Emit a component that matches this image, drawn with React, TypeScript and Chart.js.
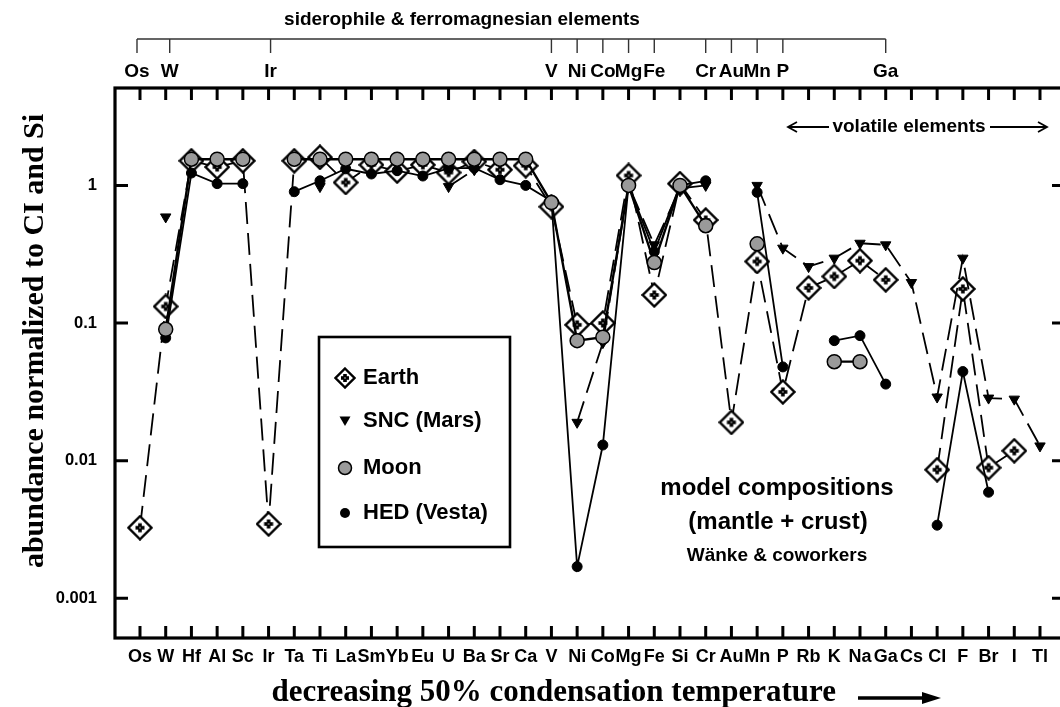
import React, { useEffect, useRef } from "react";
import { Chart, registerables } from "chart.js";
Chart.register(...registerables);

const elements = ["Os","W","Hf","Al","Sc","Ir","Ta","Ti","La","Sm","Yb","Eu","U","Ba","Sr","Ca","V","Ni","Co","Mg","Fe","Si","Cr","Au","Mn","P","Rb","K","Na","Ga","Cs","Cl","F","Br","I","Tl"];

const earth = [0.00326, 0.132, 1.51, 1.36, 1.51, 0.00347, 1.51, 1.6, 1.05, 1.41, 1.27, 1.41, 1.24, 1.49, 1.3, 1.39, 0.7, 0.097, 0.1, 1.18, 0.16, 1.03, 0.56, 0.019, 0.28, 0.0316, 0.18, 0.218, 0.284, 0.206, null, 0.0086, 0.177, 0.0089, 0.0118, null];
const snc = [null, 0.59, null, null, null, null, null, 0.98, null, null, null, null, 0.98, 1.3, null, null, null, 0.019, 0.072, 1.0, 0.37, 0.95, 1.0, null, 1.0, 0.35, 0.257, 0.296, 0.38, 0.37, 0.197, 0.029, 0.296, 0.0285, 0.028, 0.0128];
const moon = [null, 0.09, 1.55, 1.55, 1.55, null, 1.55, 1.55, 1.55, 1.55, 1.55, 1.55, 1.55, 1.55, 1.55, 1.55, 0.75, 0.0745, 0.079, 1.0, 0.275, 1.0, 0.51, null, 0.376, null, null, 0.0524, 0.0524, null, null, null, null, null, null, null];
const hed = [null, 0.078, 1.23, 1.03, 1.03, null, 0.9, 1.08, 1.32, 1.21, 1.28, 1.17, 1.33, 1.34, 1.1, 1.0, 0.77, 0.0017, 0.013, 1.0, 0.33, 1.0, 1.08, null, 0.89, 0.048, null, 0.0745, 0.081, 0.036, null, 0.0034, 0.0444, 0.0059, null, null];

const yTicks = [1, 0.1, 0.01, 0.001];
const yTickLabels = ["1", "0.1", "0.01", "0.001"];

const topLabels = ["Os","W","Ir","V","Ni","Co","Mg","Fe","Cr","Au","Mn","P","Ga"];
const topLabelShift = [-3, 4, 2, 0, 0, 0, 0, 0, 0, 0, 0, 0, 0];

const legendNames = ["Earth", "SNC (Mars)", "Moon", "HED (Vesta)"];

const SANS = "'Liberation Sans', Arial, sans-serif";
const SERIF = "'Liberation Serif', 'Times New Roman', serif";

const W = 1060;
const H = 707;

function makeEarthMarker(size: number, arm: number) {
  const c = document.createElement("canvas");
  c.width = size;
  c.height = size;
  const g = c.getContext("2d")!;
  const h = size / 2;
  g.beginPath();
  g.moveTo(h, 1.5);
  g.lineTo(size - 1.5, h);
  g.lineTo(h, size - 1.5);
  g.lineTo(1.5, h);
  g.closePath();
  g.fillStyle = "#fff";
  g.fill();
  g.lineWidth = 2.4;
  g.strokeStyle = "#000";
  g.stroke();
  g.fillStyle = "#000";
  g.fillRect(h - 1.8, h - arm, 3.6, arm * 2);
  g.fillRect(h - arm, h - 1.8, arm * 2, 3.6);
  g.fillStyle = "#fff";
  g.fillRect(h - 0.6, h - 0.6, 1.2, 1.2);
  return c;
}

const toPts = (arr: (number | null)[]) => arr.map((v, i) => ({ x: i, y: v }));

export default function App() {
  const ref = useRef<HTMLCanvasElement | null>(null);

  useEffect(() => {
    document.body.style.margin = "0";
    document.body.style.overflow = "hidden";
    const earthImg = makeEarthMarker(26, 4.5);
    const earthLegendImg = makeEarthMarker(22, 4);

    const overlay = {
      id: "overlay",
      afterDraw(chart: any) {
        const ctx = chart.ctx as CanvasRenderingContext2D;
        const xs = chart.scales.x;
        const ys = chart.scales.y;
        const { left, top, bottom } = chart.chartArea;
        const frameRight = 1065;
        ctx.save();
        ctx.strokeStyle = "#000";
        ctx.fillStyle = "#000";
        // frame (right side lies just beyond the picture)
        ctx.lineWidth = 3.2;
        ctx.strokeRect(left, top, frameRight - left, bottom - top);
        // x ticks and labels
        ctx.lineWidth = 3;
        ctx.font = `bold 18px ${SANS}`;
        ctx.textAlign = "center";
        ctx.textBaseline = "middle";
        elements.forEach((el, i) => {
          const x = xs.getPixelForValue(i);
          ctx.beginPath();
          ctx.moveTo(x, bottom);
          ctx.lineTo(x, bottom - 12);
          ctx.moveTo(x, top);
          ctx.lineTo(x, top + 12);
          ctx.stroke();
          ctx.fillText(el, x, 657);
        });
        yTicks.forEach((v) => {
          const y = ys.getPixelForValue(v);
          ctx.beginPath();
          ctx.moveTo(left, y);
          ctx.lineTo(left + 13, y);
          ctx.moveTo(frameRight, y);
          ctx.lineTo(frameRight - 13, y);
          ctx.stroke();
        });

        // top title and bracket
        ctx.font = `bold 19px ${SANS}`;
        ctx.fillText("siderophile & ferromagnesian elements", 462, 20);
        const tx = topLabels.map((l, k) => xs.getPixelForValue(elements.indexOf(l)) + topLabelShift[k]);
        ctx.lineWidth = 1.4;
        ctx.strokeStyle = "#333";
        ctx.beginPath();
        ctx.moveTo(tx[0], 39);
        ctx.lineTo(tx[tx.length - 1], 39);
        tx.forEach((x) => {
          ctx.moveTo(x, 39);
          ctx.lineTo(x, 53);
        });
        ctx.stroke();
        ctx.fillStyle = "#000";
        ctx.font = `bold 19px ${SANS}`;
        topLabels.forEach((l, k) => ctx.fillText(l, tx[k], 72));

        // volatile elements
        ctx.font = `bold 19px ${SANS}`;
        ctx.fillText("volatile elements", 909, 127);
        ctx.strokeStyle = "#000";
        ctx.lineWidth = 1.8;
        ctx.beginPath();
        ctx.moveTo(788, 127);
        ctx.lineTo(829, 127);
        ctx.moveTo(797, 122);
        ctx.lineTo(788, 127);
        ctx.lineTo(797, 132);
        ctx.moveTo(990, 127);
        ctx.lineTo(1047, 127);
        ctx.moveTo(1038, 122);
        ctx.lineTo(1047, 127);
        ctx.lineTo(1038, 132);
        ctx.stroke();

        // annotation
        ctx.font = `bold 24px ${SANS}`;
        ctx.fillText("model compositions", 777, 488);
        ctx.fillText("(mantle + crust)", 778, 522);
        ctx.font = `bold 19px ${SANS}`;
        ctx.fillText("Wänke & coworkers", 777, 556);

        // legend box
        ctx.fillStyle = "#fff";
        ctx.fillRect(319, 337, 191, 210);
        ctx.lineWidth = 2.6;
        ctx.strokeRect(319, 337, 191, 210);
        const ly = [378, 421, 468, 513];
        const mx = 345;
        ctx.drawImage(earthLegendImg, mx - 11, ly[0] - 11);
        ctx.fillStyle = "#000";
        ctx.beginPath();
        ctx.moveTo(mx - 5.5, ly[1] - 4.5);
        ctx.lineTo(mx + 5.5, ly[1] - 4.5);
        ctx.lineTo(mx, ly[1] + 5);
        ctx.closePath();
        ctx.fill();
        ctx.beginPath();
        ctx.arc(mx, ly[2], 6.5, 0, Math.PI * 2);
        ctx.fillStyle = "#9a9a9a";
        ctx.fill();
        ctx.lineWidth = 1.5;
        ctx.stroke();
        ctx.beginPath();
        ctx.arc(mx, ly[3], 5, 0, Math.PI * 2);
        ctx.fillStyle = "#000";
        ctx.fill();
        ctx.font = `bold 22px ${SANS}`;
        ctx.textAlign = "left";
        legendNames.forEach((n, k) => ctx.fillText(n, 363, ly[k]));

        // axis titles
        ctx.font = `bold 31px ${SERIF}`;
        ctx.textAlign = "right";
        ctx.textBaseline = "alphabetic";
        ctx.fillText("decreasing 50% condensation temperature", 836, 701);
        ctx.lineWidth = 3.5;
        ctx.beginPath();
        ctx.moveTo(858, 698);
        ctx.lineTo(928, 698);
        ctx.stroke();
        ctx.beginPath();
        ctx.moveTo(922, 692);
        ctx.lineTo(941, 698);
        ctx.lineTo(922, 704);
        ctx.closePath();
        ctx.fill();

        ctx.save();
        ctx.translate(43, 341);
        ctx.rotate(-Math.PI / 2);
        ctx.textAlign = "center";
        ctx.font = `bold 30px ${SERIF}`;
        ctx.fillText("abundance normalized to CI and Si", 0, 0);
        ctx.restore();

        ctx.restore();
      },
    };

    const chart = new Chart(ref.current!, {
      type: "line",
      data: {
        datasets: [
          {
            label: legendNames[0],
            data: toPts(earth),
            borderColor: "#000",
            borderWidth: 1.8,
            borderDash: [22, 9],
            pointStyle: earthImg as any,
            pointRadius: 12,
            spanGaps: false,
            order: 3,
          },
          {
            label: legendNames[1],
            data: toPts(snc),
            borderColor: "#000",
            borderWidth: 1.8,
            borderDash: [22, 9],
            pointStyle: "triangle",
            pointRotation: 180,
            pointRadius: 6,
            pointBackgroundColor: "#000",
            pointBorderColor: "#000",
            pointBorderWidth: 1,
            spanGaps: false,
            order: 2,
          },
          {
            label: legendNames[3],
            data: toPts(hed),
            borderColor: "#000",
            borderWidth: 1.8,
            pointStyle: "circle",
            pointRadius: 5,
            pointBackgroundColor: "#000",
            pointBorderColor: "#000",
            pointBorderWidth: 1,
            spanGaps: false,
            order: 1,
          },
          {
            label: legendNames[2],
            data: toPts(moon),
            borderColor: "#000",
            borderWidth: 2.4,
            pointStyle: "circle",
            pointRadius: 7,
            pointBackgroundColor: "#9a9a9a",
            pointBorderColor: "#000",
            pointBorderWidth: 1.5,
            spanGaps: false,
            order: 0,
          },
        ],
      },
      options: {
        animation: false,
        responsive: false,
        maintainAspectRatio: false,
        layout: { autoPadding: false, padding: { top: 88, right: 0, left: 0, bottom: 0 } },
        plugins: { legend: { display: false }, tooltip: { enabled: false } },
        elements: { line: { tension: 0 } },
        scales: {
          x: {
            type: "linear",
            min: -0.972,
            max: 35.778,
            grid: { display: false, drawTicks: false },
            border: { display: false },
            afterBuildTicks: (a: any) => {
              a.ticks = elements.map((_, i) => ({ value: i }));
            },
            afterFit: (s: any) => {
              s.height = H - 638;
            },
            ticks: { display: false },
          },
          y: {
            type: "logarithmic",
            min: 0.000515,
            max: 5.1,
            grid: { display: false, drawTicks: false },
            border: { display: false },
            afterBuildTicks: (a: any) => {
              a.ticks = yTicks.map((v) => ({ value: v }));
            },
            afterFit: (s: any) => {
              s.width = 115;
            },
            ticks: {
              autoSkip: false,
              padding: 18,
              color: "#000",
              font: { family: SANS, weight: "bold", size: 16.5 },
              callback: (v: any) => {
                const k = yTicks.findIndex((t) => Math.abs(t - Number(v)) < t * 1e-6);
                return k >= 0 ? yTickLabels[k] : "";
              },
            },
          },
        },
      } as any,
      plugins: [overlay],
    });
    return () => chart.destroy();
  }, []);

  return (
    <div style={{ width: W, height: H, background: "#fff", overflow: "hidden" }}>
      <canvas ref={ref} width={W} height={H} />
    </div>
  );
}
